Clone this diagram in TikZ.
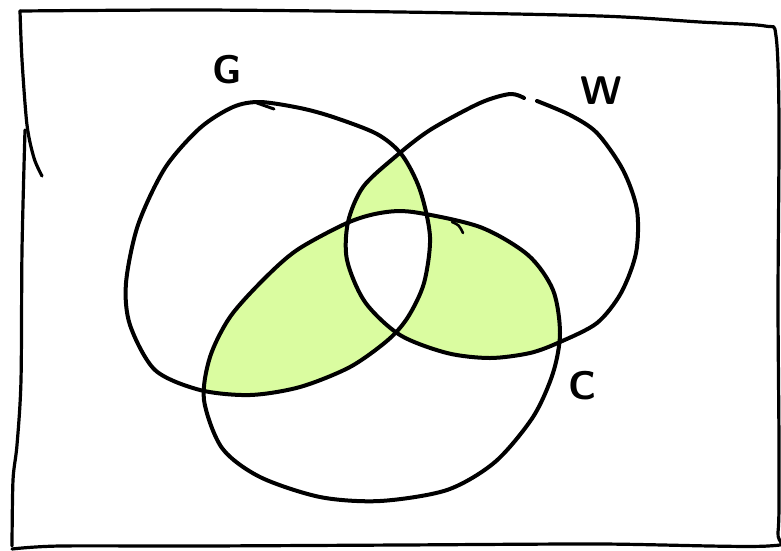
\documentclass[tikz,border=0pt]{standalone}
\usepackage{tikz}
\usetikzlibrary{positioning}
\definecolor{cHigh}{RGB}{218,252,160}
\definecolor{cInk}{RGB}{0,0,0}

\begin{document}
\begin{tikzpicture}[x=1pt,y=-1pt,
  setline/.style={cInk,line width=4pt,line cap=round,line join=round},
  frameline/.style={cInk,line width=3.2pt,line cap=round,line join=round},
  setlabel/.style={cInk,font=\sffamily\bfseries\fontsize{40}{40}\selectfont,inner sep=0pt}]
  \useasboundingbox (0,0) rectangle (781,550);
  % the three sets, kept for clipping
  \path[save path=\pathG] plot[smooth cycle] coordinates {(260,102) (300,108) (333,117) (377,134) (402,155) (420,190) (430,237) (424,283) (408,317) (388,340) (350,367) (300,387) (250,395) (200,390) (155,370) (130,325) (126,283) (138,225) (165,168) (200,128) (233,107)};
  \path[save path=\pathW] plot[smooth cycle] coordinates {(537,101) (570,115) (597,133) (623,170) (637,210) (636,253) (621,293) (597,323) (560,342) (530,353) (490,358) (447,353) (400,335) (365,302) (347,260) (348,222) (363,187) (395,157) (430,130) (480,103) (510,94) (523,97)};
  \path[save path=\pathC] plot[smooth cycle] coordinates {(413,212) (480,227) (528,255) (553,290) (560,333) (553,373) (533,417) (495,462) (447,490) (380,501) (320,497) (260,477) (222,448) (204,400) (210,357) (230,317) (263,280) (297,250) (347,223) (380,213)};
  % overlaps of two sets
  \begin{scope}
    \clip[use path=\pathG];
    \fill[cHigh,use path=\pathW];
    \fill[cHigh,use path=\pathC];
  \end{scope}
  \begin{scope}
    \clip[use path=\pathW];
    \fill[cHigh,use path=\pathC];
  \end{scope}
  % all three stays blank
  \begin{scope}
    \clip[use path=\pathG];
    \clip[use path=\pathW];
    \fill[white,use path=\pathC];
  \end{scope}
  % outlines
  \draw[setline,use path=\pathG];
  \draw[setline,use path=\pathC];
  \draw[setline] plot[smooth] coordinates {(537,101) (570,115) (597,133) (623,170) (637,210) (636,253) (621,293) (597,323) (560,342) (530,353) (490,358) (447,353) (400,335) (365,302) (347,260) (348,222) (363,187) (395,157) (430,130) (480,103) (510,94) (524,98)};
  \draw[setline,line width=3pt] (257,103) -- (274,109);
  \draw[setline,line width=2.6pt] (452,222) .. controls (459,225) .. (463,233);
  % frame
  \draw[frameline] plot[smooth] coordinates {(20,11) (200,10) (400,12) (600,16) (700,22) (765,26) (776,36) (779,120) (778,300) (779,450) (778,532) (768,546) (600,544) (400,545) (200,546) (60,546) (12,549)};
  \draw[frameline] plot[smooth] coordinates {(12,546) (13,480) (17,445) (21,380) (22,250) (25,130)};
  \draw[frameline] plot[smooth] coordinates {(20,11) (22,60) (27,125) (34,158) (42,176)};
  % labels
  \node[setlabel] (labG) at (227,70) {G};
  \node[setlabel] (labW) at (601,91) {W};
  \node[setlabel] (labC) at (583,386) {C};
\end{tikzpicture}
\end{document}
